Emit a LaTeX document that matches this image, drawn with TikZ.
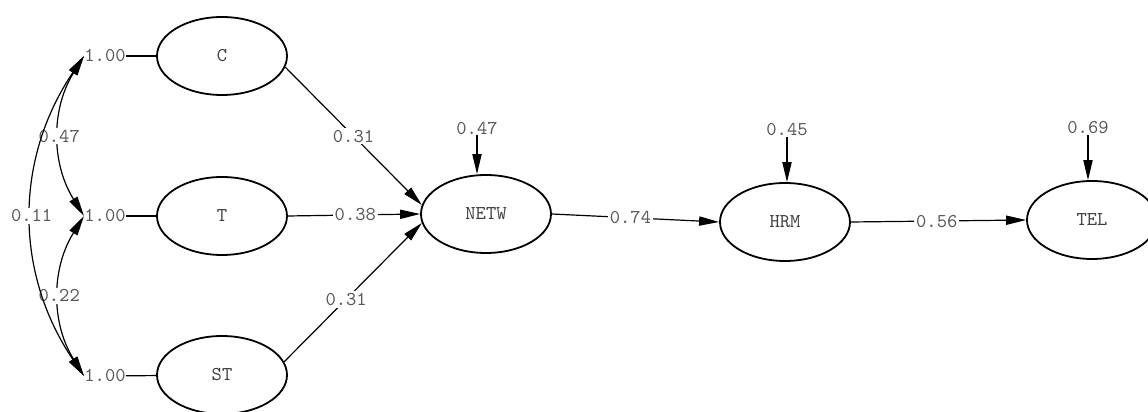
\documentclass[tikz,border=0pt]{standalone}
\usepackage{fontspec}
\usetikzlibrary{shapes.geometric, arrows.meta}

\begin{document}
\begin{tikzpicture}[
   x=0.5pt, y=0.5pt,
   font=\ttfamily\fontsize{9.8}{11}\selectfont,
   latent/.style = {ellipse, draw, line width=0.9pt, minimum width=65pt, minimum height=39pt, inner sep=0pt, text=black!75},
   unitvar/.style = {inner sep=0pt, text=black!65},
   coef/.style = {fill=white, inner sep=1pt, text=black!65},
   effect/.style = {line width=0.6pt, -{Triangle[length=10pt, width=4.6pt]}},
   cov/.style = {line width=0.6pt, {Triangle[length=10pt, width=4.6pt]}-{Triangle[length=10pt, width=4.6pt]}}]
   \useasboundingbox (0,0) rectangle (1148,412);

   % exogenous
   \node[latent] (C)  at (222,356) {C};
   \node[latent] (T)  at (222,196) {T};
   \node[latent] (ST) at (222,37)  {ST};
   \node[unitvar] (oneC)  at (105,356) {1.00};
   \node[unitvar] (oneT)  at (105,196) {1.00};
   \node[unitvar] (oneST) at (105,36)  {1.00};
   \draw[line width=0.6pt] (oneC) -- (C);
   \draw[line width=0.6pt] (oneT) -- (T);
   \draw[line width=0.6pt] (oneST) -- (ST);

   % endogenous
   \node[latent] (NETW) at (486,198) {NETW};
   \node[latent] (HRM)  at (785,190) {HRM};
   \node[latent] (TEL)  at (1092,192) {TEL};
   \node[unitvar] (rNETW) at (477,284) {0.47};
   \node[unitvar] (rHRM)  at (787,282) {0.45};
   \node[unitvar] (rTEL)  at (1088,284) {0.69};

   \draw[cov] (oneC.west) to[bend right=32] node[coef]{0.47} (oneT.west);
   \draw[cov] (oneT.west) to[bend right=32] node[coef]{0.22} (oneST.west);
   \draw[cov] (oneC.west) to[bend right=34] node[coef]{0.11} (oneST.west);

   \draw[effect] (C.-10) -- node[coef, pos=0.5]{0.31} (NETW.172);
   \draw[effect] (T.east) -- node[coef, pos=0.51]{0.38} (NETW.west);
   \draw[effect] (ST.12) -- node[coef, pos=0.45]{0.31} (NETW.188);
   \draw[effect] (NETW.east) -- node[coef, pos=0.47]{0.74} (HRM.west);
   \draw[effect] (HRM.east) -- node[coef, pos=0.49]{0.56} (TEL.west);

   \draw[effect] (rNETW.south) -- (rNETW.south |- NETW.north);
   \draw[effect] (rHRM.south) -- (rHRM.south |- HRM.north);
   \draw[effect] (rTEL.south) -- (rTEL.south |- TEL.north);
\end{tikzpicture}
\end{document}
